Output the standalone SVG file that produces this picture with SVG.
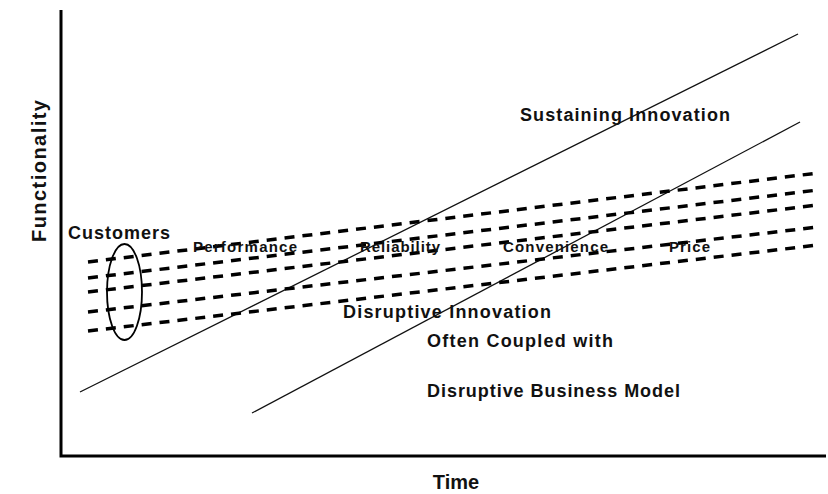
<svg xmlns="http://www.w3.org/2000/svg" width="828" height="494" viewBox="0 0 828 494">
<style>
.lbl{font-family:"Liberation Sans",Arial,sans-serif;font-weight:bold;fill:#111;}
.big{font-size:18px;}
.sm{font-size:15px;}
.ax{font-size:20px;}
.solid{stroke:#111;stroke-width:1.3;fill:none;}
.dash{stroke:#000;stroke-width:3.5;stroke-dasharray:10 8;fill:none;}
</style>
<rect width="828" height="494" fill="#fff"/>
<g id="axes">
<path d="M61 10 V456 H826" fill="none" stroke="#000" stroke-width="3"/>
</g>
<g id="connectors">
<line class="solid" x1="80" y1="392" x2="798" y2="34"/>
<line class="solid" x1="252" y1="413" x2="800" y2="122"/>
<line class="dash" x1="88" y1="262" x2="818" y2="173"/>
<line class="dash" x1="88" y1="278" x2="818" y2="190"/>
<line class="dash" x1="88" y1="292" x2="818" y2="205"/>
<line class="dash" x1="88" y1="312" x2="818" y2="227"/>
<line class="dash" x1="88" y1="331" x2="818" y2="245"/>
</g>
<g id="customers">
<ellipse cx="124.5" cy="292" rx="17.5" ry="48" fill="none" stroke="#000" stroke-width="1.8"/>
<text class="lbl big" x="68" y="239" textLength="102" lengthAdjust="spacing">Customers</text>
</g>
<g id="attributes">
<text class="lbl sm" x="193" y="252" textLength="104" lengthAdjust="spacing">Performance</text>
<text class="lbl sm" x="360" y="252" textLength="80" lengthAdjust="spacing">Reliability</text>
<text class="lbl sm" x="503" y="252" textLength="105" lengthAdjust="spacing">Convenience</text>
<text class="lbl sm" x="669" y="252" textLength="41" lengthAdjust="spacing">Price</text>
</g>
<g id="sustaining">
<text class="lbl big" x="520" y="121" textLength="210" lengthAdjust="spacing">Sustaining Innovation</text>
</g>
<g id="disruptive">
<text class="lbl big" x="343" y="318" textLength="208" lengthAdjust="spacing">Disruptive Innovation</text>
<text class="lbl big" x="427" y="347" textLength="186" lengthAdjust="spacing">Often Coupled with</text>
<text class="lbl big" x="427" y="397" textLength="253" lengthAdjust="spacing">Disruptive Business Model</text>
</g>
<g id="axis-labels">
<text class="lbl ax" x="456" y="489" text-anchor="middle">Time</text>
<text class="lbl ax" transform="translate(46 171) rotate(-90)" x="0" y="0" text-anchor="middle" textLength="142" lengthAdjust="spacing">Functionality</text>
</g>
</svg>
